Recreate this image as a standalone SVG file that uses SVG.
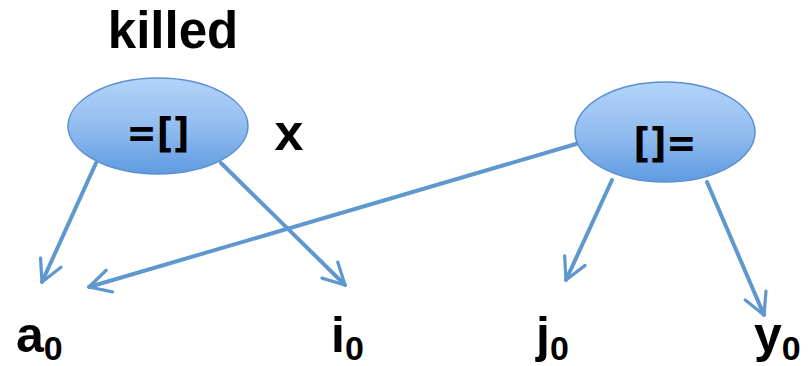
<svg xmlns="http://www.w3.org/2000/svg" width="809" height="366" viewBox="0 0 809 366">
<defs>
<linearGradient id="g" x1="0" y1="0" x2="0" y2="1">
<stop offset="0" stop-color="#b3d3fa"/>
<stop offset="0.5" stop-color="#93bdf0"/>
<stop offset="1" stop-color="#5f9ae0"/>
</linearGradient>
<marker id="ah" viewBox="0 0 12 12" refX="10" refY="6" markerWidth="7.5" markerHeight="7.5" orient="auto" markerUnits="strokeWidth">
<path d="M1.5,1.5 L10,6 L1.5,10.5" fill="none" stroke="#5f97cf" stroke-width="1.3" stroke-linecap="round" stroke-linejoin="round"/>
</marker>
<style>
.op{font-family:"DejaVu Sans Condensed","DejaVu Sans",sans-serif;font-weight:bold;font-size:40px;fill:#000;text-anchor:middle}
.lbl{font-family:"Liberation Sans",Arial,sans-serif;font-weight:bold;fill:#000}
.big{font-size:50px}
.sub{font-size:34px}
.edge{stroke:#5f97cf;stroke-width:4;fill:none;stroke-linecap:round}
</style>
</defs>
<g id="connectors">
<line class="edge" x1="96" y1="163" x2="42" y2="282" marker-end="url(#ah)"/>
<line class="edge" x1="221" y1="163" x2="345" y2="285" marker-end="url(#ah)"/>
<line class="edge" x1="576" y1="144" x2="89" y2="287" marker-end="url(#ah)"/>
<line class="edge" x1="612" y1="180" x2="566" y2="280" marker-end="url(#ah)"/>
<line class="edge" x1="707" y1="182" x2="764" y2="315" marker-end="url(#ah)"/>
</g>
<g id="node-killed-label"><text class="lbl" x="173" y="48" font-size="51" text-anchor="middle">killed</text></g>
<g id="node-store">
<ellipse cx="158" cy="126" rx="90" ry="48" fill="url(#g)" stroke="#5b8fcf" stroke-width="1.5"/>
<text class="op" x="158" y="147">=[]</text>
</g>
<g id="node-x"><text class="lbl" x="289" y="150" font-size="52" text-anchor="middle">x</text></g>
<g id="node-select">
<ellipse cx="665" cy="132" rx="90" ry="50" fill="url(#g)" stroke="#5b8fcf" stroke-width="1.5"/>
<text class="op" x="665" y="157">[]=</text>
</g>
<g id="node-a0"><text class="lbl" x="16" y="352"><tspan class="big">a</tspan><tspan class="sub" dy="8">0</tspan></text></g>
<g id="node-i0"><text class="lbl" x="331" y="352"><tspan class="big">i</tspan><tspan class="sub" dy="8">0</tspan></text></g>
<g id="node-j0"><text class="lbl" x="536" y="352"><tspan class="big">j</tspan><tspan class="sub" dy="8">0</tspan></text></g>
<g id="node-y0"><text class="lbl" x="754" y="352"><tspan class="big">y</tspan><tspan class="sub" dy="8">0</tspan></text></g>
</svg>
